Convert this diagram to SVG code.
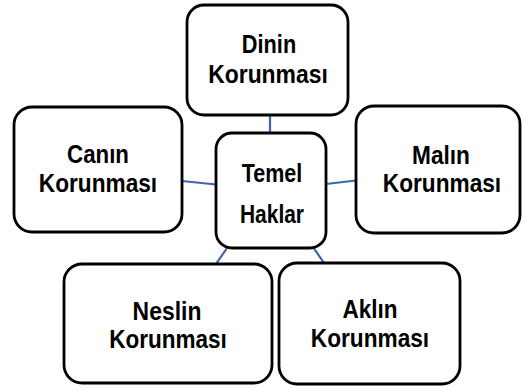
<svg xmlns="http://www.w3.org/2000/svg" width="523" height="387" viewBox="0 0 523 387">
<style>
.box{fill:#fff;stroke:#000;stroke-width:2.8}
.t{font-family:"Liberation Sans",Arial,sans-serif;font-weight:bold;font-size:26.5px;fill:#000;text-anchor:middle}
.c{stroke:#3E66B0;stroke-width:2.2;fill:none}
</style>
<rect width="523" height="387" fill="#fff"/>
<g id="connectors">
<line class="c" x1="270" y1="115" x2="270" y2="133"/>
<line class="c" x1="182" y1="181" x2="216" y2="184.5"/>
<line class="c" x1="326" y1="184" x2="356" y2="180.5"/>
<line class="c" x1="227" y1="248" x2="216" y2="264"/>
<line class="c" x1="313" y1="247" x2="324" y2="263"/>
</g>
<g id="dinin">
<rect class="box" x="187" y="5" width="161" height="110" rx="17"/>
<text class="t" transform="translate(269 53) scale(0.82 1)">Dinin</text>
<text class="t" transform="translate(268 83) scale(0.865 1)">Korunması</text>
</g>
<g id="canin">
<rect class="box" x="14" y="107" width="168" height="125" rx="18"/>
<text class="t" transform="translate(98 163) scale(0.84 1)">Canın</text>
<text class="t" transform="translate(98 192) scale(0.855 1)">Korunması</text>
</g>
<g id="temel">
<rect class="box" x="216" y="133" width="110" height="115" rx="16"/>
<text class="t" transform="translate(272 182) scale(0.81 1)">Temel</text>
<text class="t" transform="translate(272 223) scale(0.79 1)">Haklar</text>
</g>
<g id="malin">
<rect class="box" x="356" y="106" width="164" height="127" rx="18"/>
<text class="t" transform="translate(441 164) scale(0.855 1)">Malın</text>
<text class="t" transform="translate(442 192) scale(0.855 1)">Korunması</text>
</g>
<g id="neslin">
<rect class="box" x="64" y="264" width="208" height="119" rx="18"/>
<text class="t" transform="translate(167 320) scale(0.865 1)">Neslin</text>
<text class="t" transform="translate(168 348) scale(0.85 1)">Korunması</text>
</g>
<g id="aklin">
<rect class="box" x="279" y="263" width="181" height="121" rx="18"/>
<text class="t" transform="translate(370 318) scale(0.85 1)">Aklın</text>
<text class="t" transform="translate(370 347) scale(0.855 1)">Korunması</text>
</g>
</svg>
